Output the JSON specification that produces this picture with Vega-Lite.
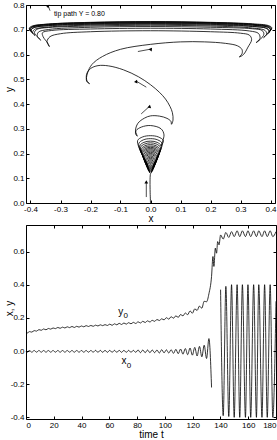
{
"$schema": "https://vega.github.io/schema/vega-lite/v6.json",
"padding": {"left": 3, "top": 0, "right": 0, "bottom": 0},
"spacing": 22,
"bounds": "flush",
"config": {
  "view": {"stroke": "black", "strokeWidth": 1},
  "font": "Liberation Sans",
  "axis": {"domain": false, "grid": false, "tickColor": "black", "tickSize": -3, "labelPadding": 5, "labelFontSize": 8, "labelColor": "black", "labelFont": "Liberation Sans", "titleFontSize": 10, "titleFontWeight": "normal", "titleColor": "black", "titleFont": "Liberation Sans"}
},
"datasets": {
  "path": [
    {"x":0,"y":0},{"x":0,"y":0.118},
    {"x":0.003,"y":0.123},{"x":0.002,"y":0.128},{"x":0,"y":0.13},{"x":-0.002,"y":0.128},{"x":-0.003,"y":0.123},{"x":-0.001,"y":0.122},
    {"x":-0.003,"y":0.125},{"x":-0.002,"y":0.1325},{"x":0,"y":0.135},{"x":0.002,"y":0.1325},{"x":0.003,"y":0.125},{"x":0.002,"y":0.124},
    {"x":0.005,"y":0.127},{"x":0.003,"y":0.137},{"x":0,"y":0.14},{"x":-0.003,"y":0.137},{"x":-0.005,"y":0.127},{"x":-0.002,"y":0.126},
    {"x":-0.006,"y":0.129},{"x":-0.004,"y":0.141},{"x":0,"y":0.145},{"x":0.004,"y":0.141},{"x":0.006,"y":0.129},{"x":0.003,"y":0.127},
    {"x":0.007,"y":0.131},{"x":0.004,"y":0.145},{"x":0,"y":0.15},{"x":-0.004,"y":0.145},{"x":-0.007,"y":0.131},{"x":-0.003,"y":0.129},
    {"x":-0.009,"y":0.135},{"x":-0.005,"y":0.15},{"x":0,"y":0.155},{"x":0.005,"y":0.15},{"x":0.009,"y":0.135},{"x":0.004,"y":0.131},
    {"x":0.01,"y":0.14},{"x":0.006,"y":0.155},{"x":0,"y":0.16},{"x":-0.006,"y":0.155},{"x":-0.01,"y":0.14},{"x":-0.004,"y":0.133},
    {"x":-0.012,"y":0.145},{"x":-0.007,"y":0.16},{"x":0,"y":0.165},{"x":0.007,"y":0.16},{"x":0.012,"y":0.145},{"x":0.005,"y":0.134},
    {"x":0.013,"y":0.15},{"x":0.008,"y":0.165},{"x":0,"y":0.17},{"x":-0.008,"y":0.165},{"x":-0.013,"y":0.15},{"x":-0.005,"y":0.136},
    {"x":-0.015,"y":0.155},{"x":-0.009,"y":0.17},{"x":0,"y":0.175},{"x":0.009,"y":0.17},{"x":0.015,"y":0.155},{"x":0.006,"y":0.138},
    {"x":0.016,"y":0.16},{"x":0.01,"y":0.175},{"x":0,"y":0.18},{"x":-0.01,"y":0.175},{"x":-0.016,"y":0.16},{"x":-0.006,"y":0.14},
    {"x":-0.018,"y":0.165},{"x":-0.011,"y":0.18},{"x":0,"y":0.185},{"x":0.011,"y":0.18},{"x":0.018,"y":0.165},{"x":0.007,"y":0.141},
    {"x":0.019,"y":0.17},{"x":0.011,"y":0.185},{"x":0,"y":0.19},{"x":-0.011,"y":0.185},{"x":-0.019,"y":0.17},{"x":-0.007,"y":0.143},
    {"x":-0.021,"y":0.175},{"x":-0.013,"y":0.19},{"x":0,"y":0.195},{"x":0.013,"y":0.19},{"x":0.021,"y":0.175},{"x":0.008,"y":0.145},
    {"x":0.022,"y":0.18},{"x":0.013,"y":0.195},{"x":0,"y":0.2},{"x":-0.013,"y":0.195},{"x":-0.022,"y":0.18},{"x":-0.008,"y":0.147},
    {"x":-0.023,"y":0.185},{"x":-0.014,"y":0.2},{"x":0,"y":0.205},{"x":0.014,"y":0.2},{"x":0.023,"y":0.185},{"x":0.009,"y":0.148},
    {"x":0.025,"y":0.19},{"x":0.015,"y":0.205},{"x":0,"y":0.21},{"x":-0.015,"y":0.205},{"x":-0.025,"y":0.19},{"x":-0.009,"y":0.15},
    {"x":-0.026,"y":0.195},{"x":-0.016,"y":0.21},{"x":0,"y":0.215},{"x":0.016,"y":0.21},{"x":0.026,"y":0.195},{"x":0.01,"y":0.152},
    {"x":0.028,"y":0.2},{"x":0.017,"y":0.215},{"x":0,"y":0.22},{"x":-0.017,"y":0.215},{"x":-0.028,"y":0.2},{"x":-0.01,"y":0.154},
    {"x":-0.029,"y":0.205},{"x":-0.017,"y":0.22},{"x":0,"y":0.225},{"x":0.017,"y":0.22},{"x":0.029,"y":0.205},{"x":0.011,"y":0.155},
    {"x":0.031,"y":0.21},{"x":0.019,"y":0.225},{"x":0,"y":0.23},{"x":-0.019,"y":0.225},{"x":-0.031,"y":0.21},{"x":-0.011,"y":0.157},
    {"x":-0.032,"y":0.216},{"x":-0.019,"y":0.231},{"x":0,"y":0.236},{"x":0.019,"y":0.231},{"x":0.032,"y":0.216},{"x":0.012,"y":0.159},
    {"x":0.034,"y":0.223},{"x":0.02,"y":0.238},{"x":0,"y":0.243},{"x":-0.02,"y":0.238},{"x":-0.034,"y":0.223},{"x":-0.013,"y":0.162},
    {"x":-0.036,"y":0.23},{"x":-0.022,"y":0.245},{"x":0,"y":0.25},{"x":0.022,"y":0.245},{"x":0.036,"y":0.23},{"x":0.02,"y":0.18},
    {"x":0.039,"y":0.24},{"x":0.024,"y":0.255},{"x":0,"y":0.26},{"x":-0.024,"y":0.255},{"x":-0.039,"y":0.24},{"x":-0.03,"y":0.2},
    {"x":-0.043,"y":0.252},{"x":-0.026,"y":0.267},{"x":0,"y":0.272},{"x":0.026,"y":0.267},{"x":0.043,"y":0.252},{"x":0.035,"y":0.23},
    {"x":0.045,"y":0.275},{"x":0.035,"y":0.300},{"x":0.0,"y":0.313},{"x":-0.03,"y":0.307},{"x":-0.048,"y":0.293},{"x":-0.05,"y":0.280},{"x":-0.044,"y":0.270},
    {"x":-0.05,"y":0.292},{"x":-0.042,"y":0.322},{"x":-0.02,"y":0.343},{"x":0.0,"y":0.352},{"x":0.03,"y":0.351},{"x":0.055,"y":0.342},{"x":0.068,"y":0.33},{"x":0.07,"y":0.318},
    {"x":0.075,"y":0.335},{"x":0.073,"y":0.365},{"x":0.065,"y":0.39},{"x":0.05,"y":0.42},{"x":0.03,"y":0.447},{"x":0.0,"y":0.478},{"x":-0.04,"y":0.51},{"x":-0.09,"y":0.538},{"x":-0.14,"y":0.554},{"x":-0.175,"y":0.555},{"x":-0.2,"y":0.543},{"x":-0.213,"y":0.52},{"x":-0.212,"y":0.495},{"x":-0.203,"y":0.482},
    {"x":-0.213,"y":0.492},{"x":-0.21,"y":0.525},{"x":-0.195,"y":0.56},{"x":-0.16,"y":0.592},{"x":-0.1,"y":0.621},{"x":0.0,"y":0.641},{"x":0.1,"y":0.651},{"x":0.18,"y":0.651},{"x":0.25,"y":0.645},{"x":0.29,"y":0.635},{"x":0.305,"y":0.62},{"x":0.305,"y":0.603},{"x":0.296,"y":0.59},
    {"x":0.31,"y":0.6},{"x":0.325,"y":0.63},{"x":0.337,"y":0.66},{"x":0.33,"y":0.678},{"x":0.3,"y":0.686},{"x":0.2,"y":0.692},{"x":0.0,"y":0.696},{"x":-0.2,"y":0.692},{"x":-0.3,"y":0.684},{"x":-0.335,"y":0.672},{"x":-0.345,"y":0.652},{"x":-0.337,"y":0.632},
    {"x":-0.342,"y":0.645},{"x":-0.358,"y":0.672},{"x":-0.36,"y":0.688},{"x":-0.33,"y":0.697},{"x":-0.2,"y":0.703},{"x":0,"y":0.706},{"x":0.2,"y":0.703},{"x":0.33,"y":0.695},{"x":0.36,"y":0.685},{"x":0.365,"y":0.665},{"x":0.352,"y":0.648},
    {"x":0.365,"y":0.66},{"x":0.378,"y":0.682},{"x":0.372,"y":0.697},{"x":0.34,"y":0.704},{"x":0.2,"y":0.710},{"x":0,"y":0.713},{"x":-0.2,"y":0.710},{"x":-0.34,"y":0.701},{"x":-0.374,"y":0.69},{"x":-0.377,"y":0.673},{"x":-0.366,"y":0.658},
    {"x":-0.374,"y":0.668},{"x":-0.387,"y":0.688},{"x":-0.378,"y":0.702},{"x":-0.34,"y":0.709},{"x":-0.2,"y":0.715},{"x":0,"y":0.718},{"x":0.2,"y":0.715},{"x":0.34,"y":0.707},{"x":0.382,"y":0.697},{"x":0.387,"y":0.682},{"x":0.377,"y":0.668},
    {"x":0.385,"y":0.678},{"x":0.394,"y":0.694},{"x":0.385,"y":0.706},{"x":0.34,"y":0.713},{"x":0.2,"y":0.719},{"x":0,"y":0.722},{"x":-0.2,"y":0.719},{"x":-0.34,"y":0.711},{"x":-0.387,"y":0.701},{"x":-0.393,"y":0.688},{"x":-0.385,"y":0.677},
    {"x":-0.392,"y":0.685},{"x":-0.398,"y":0.699},{"x":-0.387,"y":0.709},{"x":-0.34,"y":0.716},{"x":-0.2,"y":0.722},{"x":0,"y":0.725},{"x":0.2,"y":0.722},{"x":0.34,"y":0.714},{"x":0.391,"y":0.704},{"x":0.397,"y":0.692},{"x":0.39,"y":0.683},
    {"x":0.396,"y":0.69},{"x":0.4,"y":0.702},{"x":0.39,"y":0.711},{"x":0.34,"y":0.718},{"x":0.2,"y":0.724},{"x":0,"y":0.727},{"x":-0.2,"y":0.724},{"x":-0.34,"y":0.717},{"x":-0.392,"y":0.707},{"x":-0.399,"y":0.695},{"x":-0.393,"y":0.688},
    {"x":-0.399,"y":0.693},{"x":-0.402,"y":0.704},{"x":-0.39,"y":0.713},{"x":-0.34,"y":0.72},{"x":-0.2,"y":0.726},{"x":0,"y":0.729},{"x":0.2,"y":0.726},{"x":0.34,"y":0.719},{"x":0.393,"y":0.709},{"x":0.4,"y":0.698},{"x":0.395,"y":0.692},
    {"x":0.4,"y":0.697},{"x":0.403,"y":0.706},{"x":0.392,"y":0.715},{"x":0.34,"y":0.722},{"x":0.2,"y":0.728},{"x":0,"y":0.731},{"x":-0.2,"y":0.728},{"x":-0.34,"y":0.721},{"x":-0.393,"y":0.711},{"x":-0.401,"y":0.7},{"x":-0.396,"y":0.694},
    {"x":-0.401,"y":0.698},{"x":-0.404,"y":0.707},{"x":-0.392,"y":0.716},{"x":-0.34,"y":0.723},{"x":-0.2,"y":0.729},{"x":0,"y":0.732},{"x":0.2,"y":0.729},{"x":0.34,"y":0.722},{"x":0.394,"y":0.712},{"x":0.402,"y":0.702},{"x":0.398,"y":0.696},
    {"x":0.402,"y":0.7},{"x":0.404,"y":0.709},{"x":0.393,"y":0.717},{"x":0.34,"y":0.724},{"x":0.2,"y":0.73},{"x":0,"y":0.733},{"x":-0.2,"y":0.73},{"x":-0.34,"y":0.723},{"x":-0.394,"y":0.713},{"x":-0.403,"y":0.703},{"x":-0.399,"y":0.697}
  ],
  "arrows": [
    {"a":1,"x":-0.014,"y":0.024,"x2":-0.014,"y2":0.085},
    {"a":2,"x":-0.031,"y":0.36,"x2":-0.003,"y2":0.391},
    {"a":3,"x":-0.014,"y":0.468,"x2":-0.047,"y2":0.492},
    {"a":4,"x":-0.042,"y":0.612,"x2":0.002,"y2":0.622},
    {"a":5,"x":-0.335,"y":0.777,"x2":-0.341,"y2":0.797}
  ],
  "note": [{"x":-0.322,"y":0.765,"label":"tip path Y = 0.80"}],
  "series": [
    {"t":0,"x0":-0.002,"y0":0.11},
    {"t":0.8,"x0":-0.007,"y0":0.108},{"t":2.5,"x0":0.003,"y0":0.117},{"t":4.2,"x0":-0.007,"y0":0.114},{"t":5.9,"x0":0.003,"y0":0.123},
    {"t":7.6,"x0":-0.007,"y0":0.120},{"t":9.3,"x0":0.003,"y0":0.129},{"t":11.0,"x0":-0.007,"y0":0.125},{"t":12.7,"x0":0.003,"y0":0.133},
    {"t":14.4,"x0":-0.007,"y0":0.128},{"t":16.1,"x0":0.003,"y0":0.136},{"t":17.8,"x0":-0.007,"y0":0.132},{"t":19.5,"x0":0.003,"y0":0.139},
    {"t":21.2,"x0":-0.007,"y0":0.135},{"t":22.9,"x0":0.003,"y0":0.142},{"t":24.6,"x0":-0.007,"y0":0.137},{"t":26.3,"x0":0.003,"y0":0.144},
    {"t":28.0,"x0":-0.007,"y0":0.139},{"t":29.7,"x0":0.003,"y0":0.146},{"t":31.4,"x0":-0.007,"y0":0.141},{"t":33.1,"x0":0.003,"y0":0.148},
    {"t":34.8,"x0":-0.007,"y0":0.142},{"t":36.5,"x0":0.003,"y0":0.149},{"t":38.2,"x0":-0.007,"y0":0.144},{"t":39.9,"x0":0.003,"y0":0.151},
    {"t":41.6,"x0":-0.007,"y0":0.146},{"t":43.3,"x0":0.003,"y0":0.153},{"t":45.0,"x0":-0.007,"y0":0.148},{"t":46.7,"x0":0.003,"y0":0.154},
    {"t":48.4,"x0":-0.007,"y0":0.149},{"t":50.1,"x0":0.004,"y0":0.156},{"t":51.8,"x0":-0.008,"y0":0.151},{"t":53.5,"x0":0.004,"y0":0.158},
    {"t":55.2,"x0":-0.008,"y0":0.153},{"t":56.9,"x0":0.004,"y0":0.159},{"t":58.6,"x0":-0.008,"y0":0.154},{"t":60.3,"x0":0.004,"y0":0.162},
    {"t":62.0,"x0":-0.008,"y0":0.155},{"t":63.7,"x0":0.004,"y0":0.164},{"t":65.4,"x0":-0.008,"y0":0.158},{"t":67.1,"x0":0.004,"y0":0.167},
    {"t":68.8,"x0":-0.008,"y0":0.160},{"t":70.5,"x0":0.004,"y0":0.169},{"t":72.2,"x0":-0.008,"y0":0.162},{"t":73.9,"x0":0.004,"y0":0.171},
    {"t":75.6,"x0":-0.008,"y0":0.164},{"t":77.3,"x0":0.004,"y0":0.173},{"t":79.0,"x0":-0.008,"y0":0.166},{"t":80.7,"x0":0.006,"y0":0.176},
    {"t":82.4,"x0":-0.010,"y0":0.169},{"t":84.1,"x0":0.006,"y0":0.179},{"t":85.8,"x0":-0.010,"y0":0.172},{"t":87.5,"x0":0.006,"y0":0.182},
    {"t":89.2,"x0":-0.010,"y0":0.175},{"t":90.9,"x0":0.006,"y0":0.185},{"t":92.6,"x0":-0.010,"y0":0.179},{"t":94.3,"x0":0.006,"y0":0.190},
    {"t":96.0,"x0":-0.012,"y0":0.184},{"t":97.7,"x0":0.008,"y0":0.194},{"t":99.4,"x0":-0.011,"y0":0.188},{"t":101.1,"x0":0.007,"y0":0.201},
    {"t":102.8,"x0":-0.012,"y0":0.192},{"t":104.5,"x0":0.008,"y0":0.207},{"t":106.2,"x0":-0.014,"y0":0.198},{"t":107.9,"x0":0.010,"y0":0.212},
    {"t":109.6,"x0":-0.016,"y0":0.203},{"t":111.3,"x0":0.012,"y0":0.220},{"t":113.0,"x0":-0.019,"y0":0.212},{"t":114.7,"x0":0.015,"y0":0.229},
    {"t":116.4,"x0":-0.022,"y0":0.219},{"t":118.1,"x0":0.018,"y0":0.242},{"t":119.8,"x0":-0.025,"y0":0.228},{"t":121.5,"x0":0.022,"y0":0.254},
    {"t":123.2,"x0":-0.030,"y0":0.245},{"t":124.9,"x0":0.028,"y0":0.271},{"t":126.6,"x0":-0.035,"y0":0.258},{"t":128.3,"x0":0.035,"y0":0.300},
    {"t":130.0,"x0":-0.045,"y0":0.297},{"t":131.7,"x0":0.075,"y0":0.345},
    {"t":133.6,"x0":-0.22,"y0":0.45},{"t":134.6,"y0":0.57},{"t":135.3,"y0":0.51},{"t":136.3,"x0":0.31,"y0":0.62},{"t":137.2,"y0":0.59},
    {"t":138.0,"x0":-0.36,"y0":0.66},{"t":139.0,"y0":0.64},{"t":140.1,"x0":0.37,"y0":0.70},{"t":142.0,"x0":-0.39,"y0":0.675},
    {"t":143.9,"x0":0.39,"y0":0.715},{"t":146.0,"x0":-0.395,"y0":0.685},{"t":148.0,"x0":0.4,"y0":0.72},{"t":149.9,"x0":-0.4,"y0":0.69},
    {"t":152.0,"x0":0.4,"y0":0.725},{"t":153.9,"x0":-0.4,"y0":0.69},{"t":155.8,"x0":0.4,"y0":0.725},{"t":158.0,"x0":-0.4,"y0":0.69},
    {"t":159.8,"x0":0.4,"y0":0.725},{"t":161.8,"x0":-0.4,"y0":0.69},{"t":163.9,"x0":0.4,"y0":0.725},{"t":165.9,"x0":-0.4,"y0":0.69},
    {"t":167.6,"x0":0.4,"y0":0.725},{"t":169.9,"x0":-0.4,"y0":0.69},{"t":171.8,"x0":0.4,"y0":0.725},{"t":173.7,"x0":-0.4,"y0":0.69},
    {"t":175.8,"x0":0.4,"y0":0.725},{"t":177.7,"x0":-0.4,"y0":0.69},{"t":180,"x0":0.3,"y0":0.72}
  ],
  "labels": [
    {"t":68.2,"v":0.237,"txt":"y","k":"m"},
    {"t":71.8,"v":0.213,"txt":"0","k":"s"},
    {"t":70.6,"v":-0.061,"txt":"x","k":"m"},
    {"t":74.2,"v":-0.09,"txt":"0","k":"s"}
  ]
},
"vconcat": [
  {
    "width": 249, "height": 198,
    "layer": [
      {"data": {"name": "path"},
       "mark": {"type": "line", "interpolate": "catmull-rom", "color": "black", "strokeWidth": 0.8},
       "encoding": {
         "x": {"field": "x", "type": "quantitative", "scale": {"domain": [-0.415, 0.415], "nice": false, "zero": false},
               "axis": {"values": [-0.4,-0.3,-0.2,-0.1,0,0.1,0.2,0.3,0.4], "title": "x", "titlePadding": 0, "labelExpr": "replace(datum.label, '−', '-')"}},
         "y": {"field": "y", "type": "quantitative", "scale": {"domain": [0, 0.8], "nice": false, "zero": false},
               "axis": {"values": [0,0.1,0.2,0.3,0.4,0.5,0.6,0.7,0.8], "title": "y", "titleX": -12, "titleY": 84}},
         "order": {"value": null}
       }},
      {"data": {"name": "arrows"},
       "mark": {"type": "rule", "color": "black", "strokeWidth": 0.7},
       "encoding": {
         "x": {"field": "x", "type": "quantitative", "scale": {"domain": [-0.415, 0.415], "nice": false, "zero": false}, "axis": null},
         "y": {"field": "y", "type": "quantitative", "scale": {"domain": [0, 0.8], "nice": false, "zero": false}, "axis": null},
         "x2": {"field": "x2"}, "y2": {"field": "y2"}
       }},
      {"data": {"name": "arrows"},
       "mark": {"type": "point", "shape": "triangle-up", "filled": true, "color": "black", "size": 14, "opacity": 1},
       "encoding": {
         "x": {"field": "x2", "type": "quantitative", "scale": {"domain": [-0.415, 0.415], "nice": false, "zero": false}, "axis": null},
         "y": {"field": "y2", "type": "quantitative", "scale": {"domain": [0, 0.8], "nice": false, "zero": false}, "axis": null},
         "angle": {"field": "a", "type": "nominal", "scale": {"domain": [1,2,3,4,5], "range": [0,47,301,79,340]}, "legend": null}
       }},
      {"data": {"name": "note"},
       "mark": {"type": "text", "align": "left", "baseline": "middle", "fontSize": 7, "fill": "black", "color": "black"},
       "encoding": {
         "x": {"field": "x", "type": "quantitative", "scale": {"domain": [-0.415, 0.415], "nice": false, "zero": false},
               "axis": {"orient": "top", "labels": false, "title": null, "values": [-0.4,-0.3,-0.2,-0.1,0,0.1,0.2,0.3,0.4]}},
         "y": {"field": "y", "type": "quantitative", "scale": {"domain": [0, 0.8], "nice": false, "zero": false},
               "axis": {"orient": "right", "labels": false, "title": null, "values": [0,0.1,0.2,0.3,0.4,0.5,0.6,0.7,0.8]}},
         "text": {"field": "label"}
       }}
    ],
    "resolve": {"axis": {"x": "independent", "y": "independent"}}
  },
  {
    "width": 250, "height": 194,
    "layer": [
      {"data": {"name": "series"},
       "transform": [{"fold": ["x0", "y0"], "as": ["s", "v"]}],
       "mark": {"type": "line", "interpolate": "monotone", "color": "black", "strokeWidth": 0.8},
       "encoding": {
         "x": {"field": "t", "type": "quantitative", "scale": {"domain": [0, 180], "nice": false, "zero": false},
               "axis": {"values": [0,20,40,60,80,100,120,140,160,180], "title": "time  t", "titlePadding": 0}},
         "y": {"field": "v", "type": "quantitative", "scale": {"domain": [-0.41, 0.76], "nice": false, "zero": false},
               "axis": {"values": [-0.4,-0.2,0,0.2,0.4,0.6], "title": "x, y", "titleX": -12, "titleY": 83, "labelExpr": "replace(datum.label, '−', '-')"}},
         "detail": {"field": "s"}
       }},
      {"data": {"name": "labels"},
       "transform": [{"filter": "datum.k == 'm'"}],
       "mark": {"type": "text", "fontSize": 10, "fill": "black"},
       "encoding": {
         "x": {"field": "t", "type": "quantitative", "scale": {"domain": [0, 180], "nice": false, "zero": false},
               "axis": {"orient": "top", "labels": false, "title": null, "values": [0,20,40,60,80,100,120,140,160,180]}},
         "y": {"field": "v", "type": "quantitative", "scale": {"domain": [-0.41, 0.76], "nice": false, "zero": false},
               "axis": {"orient": "right", "labels": false, "title": null, "values": [-0.4,-0.2,0,0.2,0.4,0.6]}},
         "text": {"field": "txt"}
       }},
      {"data": {"name": "labels"},
       "transform": [{"filter": "datum.k == 's'"}],
       "mark": {"type": "text", "fontSize": 8, "fill": "black"},
       "encoding": {
         "x": {"field": "t", "type": "quantitative", "scale": {"domain": [0, 180], "nice": false, "zero": false}, "axis": null},
         "y": {"field": "v", "type": "quantitative", "scale": {"domain": [-0.41, 0.76], "nice": false, "zero": false}, "axis": null},
         "text": {"field": "txt"}
       }}
    ],
    "resolve": {"axis": {"x": "independent", "y": "independent"}}
  }
]
}
